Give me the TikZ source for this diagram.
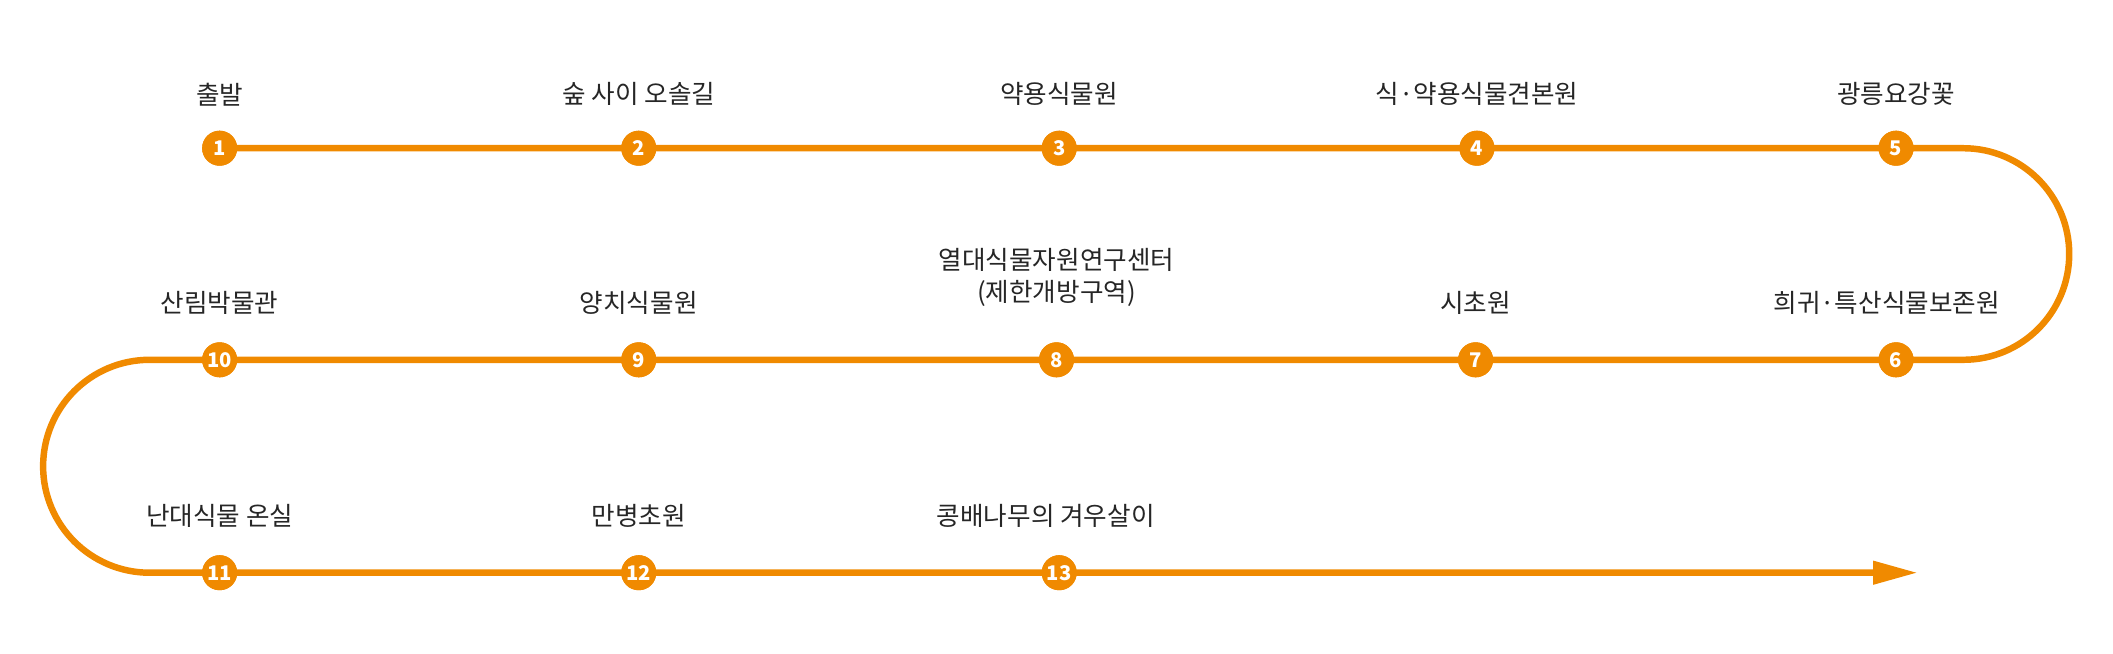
\documentclass[tikz,border=0pt]{standalone}
\usepackage{fontspec}
\setmainfont{Noto Sans CJK KR}
\usetikzlibrary{arrows.meta}
\definecolor{orng}{HTML}{F08A00}
\begin{document}
\begin{tikzpicture}[x=0.5pt,y=-0.5pt,
 stop/.style={circle,fill=orng,minimum size=13pt,inner sep=0pt,text=white,font=\fontsize{7.5}{8}\selectfont\bfseries},
 lbl/.style={font=\fontsize{9.5}{12}\selectfont,text=black!85,align=center},
 route/.style={draw=orng,line width=2.4pt}]
\useasboundingbox (0,0) rectangle (1568,485);
\coordinate (r1) at (1457,110);
\coordinate (l1) at (111,267);
\coordinate (e) at (1422,425);
\coordinate (e2) at (1394,425);
\node[stop] (n1) at (163,110) {1};
\node[stop] (n2) at (474,110) {2};
\node[stop] (n3) at (786,110) {3};
\node[stop] (n4) at (1096,110) {4};
\node[stop] (n5) at (1407,110) {5};
\node[stop] (n6) at (1407,267) {6};
\node[stop] (n7) at (1095,267) {7};
\node[stop] (n8) at (784,267) {8};
\node[stop] (n9) at (474,267) {9};
\node[stop] (n10) at (163,267) {10};
\node[stop] (n11) at (163,425) {11};
\node[stop] (n12) at (474,425) {12};
\node[stop] (n13) at (786,425) {13};
\path[route] (n1.center) -- (r1) arc[start angle=-90,end angle=90,radius=78.5] -- (l1) arc[start angle=270,end angle=90,radius=79] -- (e2);
\fill[orng] (e) -- ++(-32,-9) -- ++(0,18) -- cycle;
\foreach \i in {1,...,13} {\node[stop] at (n\i) {\i};}
\node[lbl] (t1) at (163,70) {출발};
\node[lbl] (t2) at (474,70) {숲 사이 오솔길};
\node[lbl] (t3) at (786,70) {약용식물원};
\node[lbl] (t4) at (1096,70) {식·약용식물견본원};
\node[lbl] (t5) at (1407,70) {광릉요강꽃};
\node[lbl] (t6) at (1400,225) {희귀·특산식물보존원};
\node[lbl] (t7) at (1095,225) {시초원};
\node[lbl] (t8) at (784,206) {열대식물자원연구센터\\(제한개방구역)};
\node[lbl] (t9) at (474,225) {양치식물원};
\node[lbl] (t10) at (163,225) {산림박물관};
\node[lbl] (t11) at (163,383) {난대식물 온실};
\node[lbl] (t12) at (474,383) {만병초원};
\node[lbl] (t13) at (776,383) {콩배나무의 겨우살이};
\end{tikzpicture}
\end{document}
